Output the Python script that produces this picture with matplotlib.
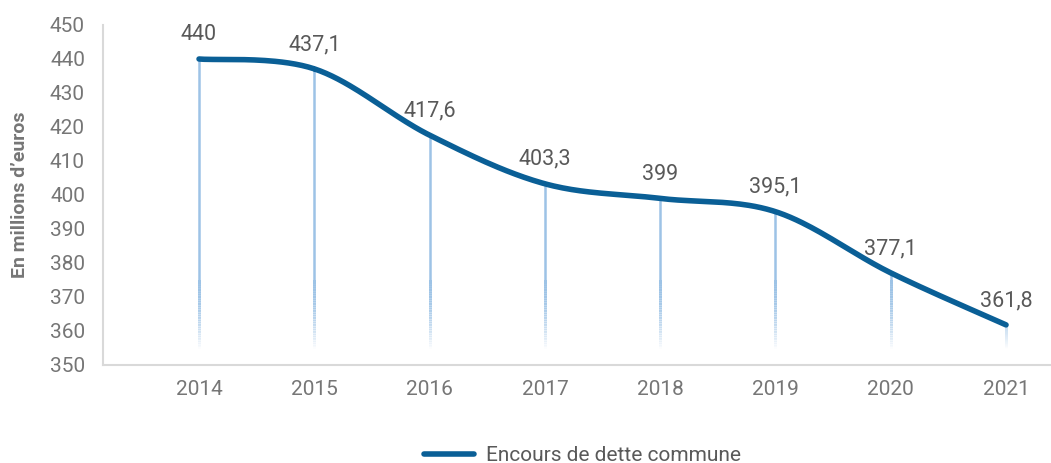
import numpy as np
import matplotlib.pyplot as plt
from matplotlib.collections import LineCollection

plt.rcParams['font.family'] = ['Roboto', 'DejaVu Sans']

years = ['2014', '2015', '2016', '2017', '2018', '2019', '2020', '2021']
encours = [440, 437.1, 417.6, 403.3, 399, 395.1, 377.1, 361.8]
labels = ['440', '437,1', '417,6', '403,3', '399', '395,1', '377,1', '361,8']

line_col = '#0a5f96'
drop_col = '#9dc3e6'
txt_col = '#595959'
tick_col = '#767676'

fig = plt.figure(figsize=(10.51, 4.63), dpi=100)
ax = fig.add_axes([103 / 1051, 98 / 463, 1 - 103 / 1051, (365 - 25) / 463])

x = np.arange(len(years))
y = np.array(encours)

# smoothed curve (catmull-rom through the points, like excel's smoothed line)
px = np.concatenate([[x[0]], x, [x[-1]]])
py = np.concatenate([[y[0]], y, [y[-1]]])
cx, cy = [], []
for i in range(1, len(px) - 2):
    t = np.linspace(0, 1, 40)
    for arr, out in ((px, cx), (py, cy)):
        p0, p1, p2, p3 = arr[i - 1], arr[i], arr[i + 1], arr[i + 2]
        out.extend(0.5 * ((2 * p1) + (-p0 + p2) * t
                          + (2 * p0 - 5 * p1 + 4 * p2 - p3) * t ** 2
                          + (-p0 + 3 * p1 - 3 * p2 + p3) * t ** 3))

# drop lines: solid on top, fading toward the bottom
fade_top = 375
for xi, yi in zip(x, y):
    if yi > fade_top:
        ax.plot([xi, xi], [yi, fade_top], color=drop_col, lw=1.8,
                solid_capstyle='butt', zorder=1)
    top = min(yi, fade_top)
    ys = np.linspace(top, 355, 40)
    segs = [[(xi, ys[k]), (xi, ys[k + 1])] for k in range(len(ys) - 1)]
    alphas = np.clip((ys[:-1] - 355) / (fade_top - 355), 0, 1)
    cols = [(0.616, 0.765, 0.902, a) for a in alphas]
    ax.add_collection(LineCollection(segs, colors=cols, linewidths=1.8,
                                     capstyle='butt', antialiaseds=False, zorder=1))

ax.plot(cx, cy, color=line_col, lw=4, solid_capstyle='round', zorder=3,
        label='Encours de dette commune')

for xi, yi, lab in zip(x, y, labels):
    ax.annotate(lab, (xi, yi), xytext=(0, 10), textcoords='offset points',
                ha='center', va='bottom', fontsize=15.5, color=txt_col)

ax.set_xlim(-0.833, 7.39)
ax.set_ylim(350, 450)
ax.set_yticks(np.arange(350, 451, 10))
ax.set_xticks(x)
ax.set_xticklabels(years)
ax.tick_params(length=0, labelsize=15, labelcolor=tick_col)
ax.tick_params(axis='x', pad=11)
ax.tick_params(axis='y', pad=13)
for s in ['top', 'right']:
    ax.spines[s].set_visible(False)
for s in ['left', 'bottom']:
    ax.spines[s].set_color('#d9d9d9')
    ax.spines[s].set_linewidth(1.5)

ax.set_ylabel("En millions d\u2019euros", fontsize=14, fontweight='bold',
              color=tick_col, labelpad=15)

fig.legend(loc='lower center', bbox_to_anchor=(0.554, -0.045), frameon=False,
           fontsize=15, handlelength=2.4, handletextpad=0.6, labelcolor=txt_col)

fig.savefig('out.png', dpi=100)
